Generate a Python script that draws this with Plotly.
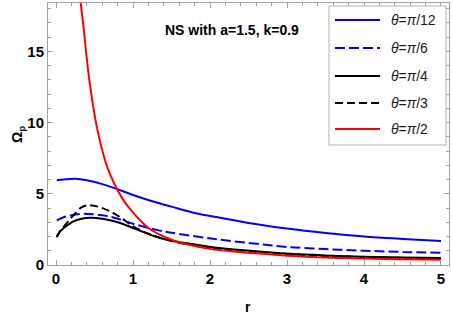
import plotly.graph_objects as go

# --- data ---
r_pi12 = [0.01, 0.1, 0.25, 0.4, 0.6, 0.77, 1.0, 1.25, 1.5, 1.83, 2.1, 2.5, 3.0, 3.5, 4.0, 4.5, 5.0]
v_pi12 = [5.95, 6.0, 6.05, 5.95, 5.68, 5.38, 4.92, 4.48, 4.1, 3.62, 3.35, 2.95, 2.56, 2.25, 2.0, 1.83, 1.69]

r_pi6 = [0.01, 0.1, 0.2, 0.35, 0.5, 0.65, 0.77, 1.03, 1.32, 1.5, 2.06, 2.65, 3.0, 3.5, 4.0, 4.5, 5.0]
v_pi6 = [3.14, 3.35, 3.5, 3.6, 3.55, 3.45, 3.3, 2.85, 2.45, 2.27, 1.82, 1.46, 1.27, 1.12, 1.0, 0.92, 0.86]

r_pi4 = [0.01, 0.05, 0.11, 0.22, 0.33, 0.45, 0.6, 0.77, 1.0, 1.32, 1.55, 1.83, 2.06, 2.52, 3.0, 3.5, 4.0, 4.5, 5.0]
v_pi4 = [2.0, 2.35, 2.63, 3.05, 3.25, 3.32, 3.25, 3.05, 2.6, 1.95, 1.65, 1.42, 1.23, 1.0, 0.8, 0.67, 0.58, 0.53, 0.5]

r_pi3 = [0.01, 0.05, 0.11, 0.22, 0.33, 0.43, 0.58, 0.77, 1.03, 1.2, 1.5, 2.0, 2.5, 3.0, 3.5, 4.0, 4.5, 5.0]
v_pi3 = [1.95, 2.35, 2.75, 3.45, 4.04, 4.2, 4.04, 3.57, 2.63, 2.2, 1.68, 1.22, 0.97, 0.77, 0.64, 0.55, 0.5, 0.47]

r_pi2 = [0.30, 0.32, 0.36, 0.39, 0.44, 0.53, 0.64, 0.70, 0.80, 0.90, 1.0, 1.1, 1.2, 1.42, 1.6, 1.83, 2.06, 2.3, 2.65, 3.0, 3.5, 4.0, 4.5, 5.0]
v_pi2 = [19.5, 18.4, 16.6, 15.0, 12.7, 9.7, 7.3, 6.4, 5.25, 4.36, 3.7, 3.1, 2.6, 1.95, 1.6, 1.3, 1.08, 0.95, 0.8, 0.65, 0.53, 0.45, 0.4, 0.36]

labels = ["<i>θ</i>=<i>π</i>/12", "<i>θ</i>=<i>π</i>/6", "<i>θ</i>=<i>π</i>/4", "<i>θ</i>=<i>π</i>/3", "<i>θ</i>=<i>π</i>/2"]
x_ticks = [0, 1, 2, 3, 4, 5]
y_ticks = [0, 5, 10, 15]
title_text = "NS with a=1.5, k=0.9"
x_title = "r"
y_title = "Ω<sub>p</sub>"

series = [(r_pi12, v_pi12), (r_pi6, v_pi6), (r_pi4, v_pi4), (r_pi3, v_pi3), (r_pi2, v_pi2)]
styles = [("#0000ff", "solid"), ("#0000ff", "10px,4px"), ("#000000", "solid"),
          ("#000000", "8px,4px"), ("#ff0000", "solid")]

FONT = "Liberation Sans, Arial, sans-serif"
fig = go.Figure()
for (xs, ys), (c, d), lab in zip(series, styles, labels):
    fig.add_trace(go.Scatter(x=xs, y=ys, mode="lines", name=lab, showlegend=False, hoverinfo="skip",
                             line=dict(color=c, width=2, dash=d, shape="spline", smoothing=1.0)))

# manual legend box
lx0, lx1, ly0, ly1 = 0.7007, 0.9925, 0.458, 0.9885
fig.add_shape(type="rect", xref="paper", yref="paper", x0=lx0, x1=lx1, y0=ly0, y1=ly1,
              line=dict(color="#b4b4b4", width=1), fillcolor="white", layer="above")
rows = [0.935, 0.828, 0.721, 0.618, 0.519]
for yy, (c, d), lab in zip(rows, styles, labels):
    fig.add_shape(type="line", xref="paper", yref="paper", x0=0.7157, x1=0.8279, y0=yy, y1=yy,
                  line=dict(color=c, width=2, dash=d), layer="above")
    fig.add_annotation(xref="paper", yref="paper", x=0.8504, y=yy, text=lab, showarrow=False,
                       xanchor="left", yanchor="middle", font=dict(family=FONT, size=14, color="#1a1a1a"))

fig.add_annotation(xref="paper", yref="paper", x=0.459, y=0.897, text=title_text, showarrow=False,
                   xanchor="center", yanchor="middle",
                   font=dict(family=FONT, size=14, color="black", weight="bold"))
fig.add_annotation(xref="paper", yref="paper", x=0.499, y=-0.160, text=x_title, showarrow=False,
                   xanchor="center", yanchor="middle",
                   font=dict(family=FONT, size=14, color="black", weight="bold"))
fig.add_annotation(xref="paper", yref="paper", x=-0.075, y=0.50, text=y_title, showarrow=False,
                   textangle=-90, xanchor="center", yanchor="middle",
                   font=dict(family=FONT, size=14, color="black", weight="bold"))

axis_common = dict(showgrid=False, zeroline=False, showline=True, linecolor="#a0a0a0", linewidth=1,
                   mirror="ticks", ticks="inside", ticklen=5, tickcolor="#a0a0a0", automargin=False,
                   ticklabeloverflow="allow",
                   tickfont=dict(family=FONT, size=15, color="black", weight="bold"))
fig.update_xaxes(range=[-0.104, 5.104], tickvals=x_ticks,
                 minor=dict(dtick=0.2, tick0=0, ticks="inside", ticklen=3, tickcolor="#a0a0a0"),
                 **axis_common)
fig.update_yaxes(range=[0, 18.4], tickvals=y_ticks,
                 minor=dict(dtick=1, tick0=0, ticks="inside", ticklen=3, tickcolor="#a0a0a0"),
                 **axis_common)
fig.update_layout(width=452, height=316, margin=dict(l=48, r=3, t=3, b=51),
                  plot_bgcolor="white", paper_bgcolor="white", showlegend=False)
fig.write_html("out.html", config={"displayModeBar": False},
               post_script="document.body.style.margin='0px';")
